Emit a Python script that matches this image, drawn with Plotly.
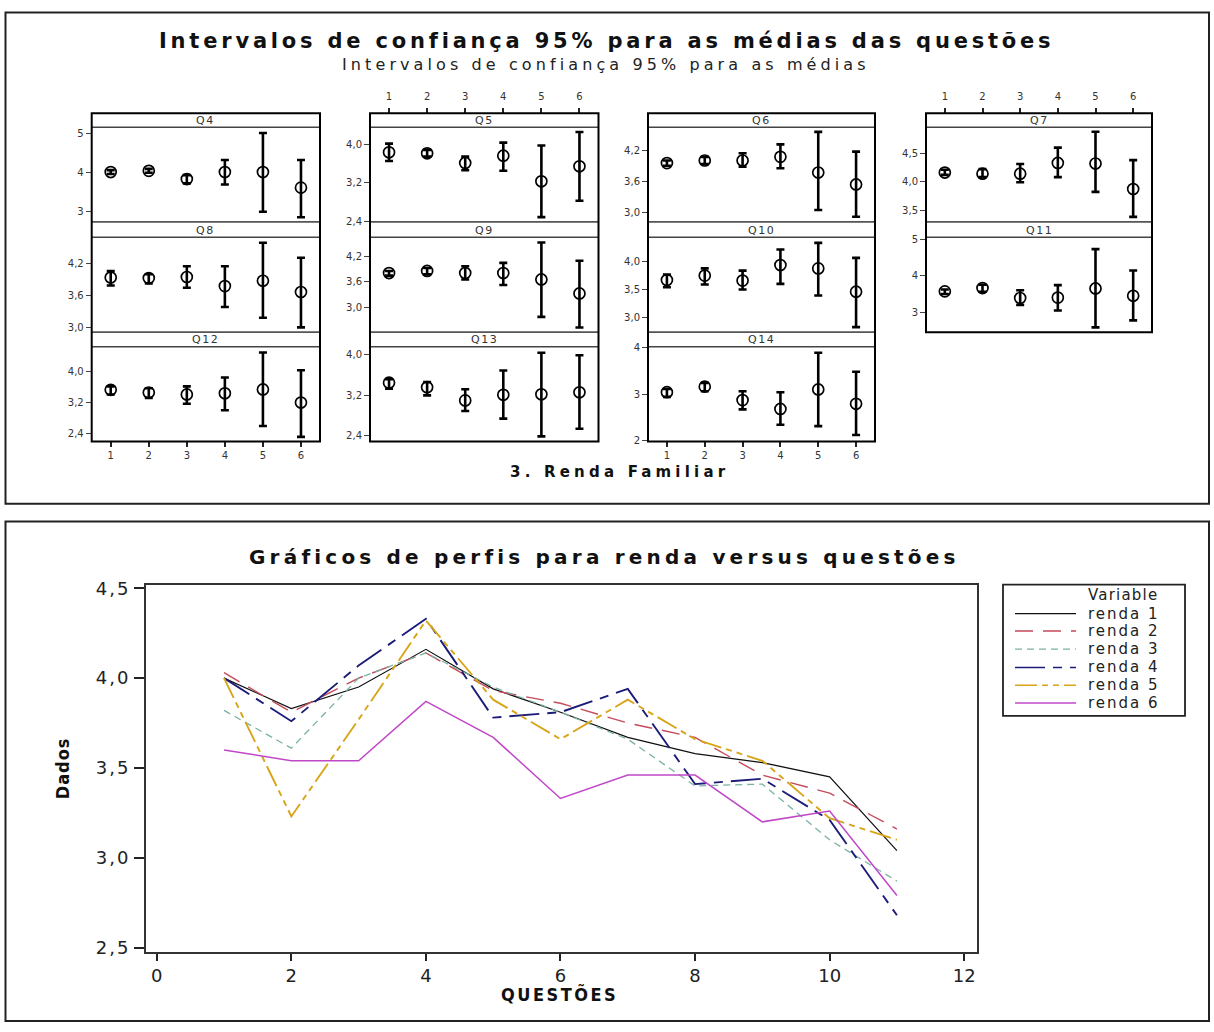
import plotly.graph_objects as go

# ---------------- data ----------------
groups = [1, 2, 3, 4, 5, 6]                      # 3. Renda Familiar
questions = ["Q4", "Q5", "Q6", "Q7", "Q8", "Q9", "Q10", "Q11", "Q12", "Q13", "Q14"]
question_numbers = [1, 2, 3, 4, 5, 6, 7, 8, 9, 10, 11]
renda_names = ["renda 1", "renda 2", "renda 3", "renda 4", "renda 5", "renda 6"]

Q4_mean = [4.00, 4.03, 3.82, 4.00, 4.00, 3.60]
Q4_low = [3.95, 3.98, 3.71, 3.68, 2.98, 2.84]
Q4_high = [4.05, 4.08, 3.92, 4.31, 5.00, 4.31]

Q5_mean = [3.83, 3.81, 3.61, 3.76, 3.23, 3.54]
Q5_low = [3.65, 3.74, 3.46, 3.45, 2.49, 2.83]
Q5_high = [4.01, 3.88, 3.74, 4.03, 3.97, 4.25]

Q6_mean = [3.95, 4.00, 4.00, 4.07, 3.77, 3.54]
Q6_low = [3.90, 3.93, 3.88, 3.85, 3.05, 2.92]
Q6_high = [4.00, 4.07, 4.14, 4.31, 4.55, 4.17]

Q7_mean = [4.16, 4.14, 4.14, 4.33, 4.32, 3.87]
Q7_low = [4.12, 4.08, 3.99, 4.08, 3.82, 3.38]
Q7_high = [4.21, 4.22, 4.31, 4.60, 4.88, 4.38]

Q8_mean = [3.94, 3.93, 3.95, 3.78, 3.88, 3.67]
Q8_low = [3.79, 3.83, 3.75, 3.39, 3.19, 3.01]
Q8_high = [4.06, 4.00, 4.15, 4.15, 4.59, 4.31]

Q9_mean = [3.81, 3.86, 3.81, 3.81, 3.66, 3.33]
Q9_low = [3.75, 3.78, 3.66, 3.53, 2.78, 2.53]
Q9_high = [3.86, 3.93, 3.97, 4.05, 4.53, 4.10]

Q10_mean = [3.67, 3.75, 3.66, 3.94, 3.88, 3.46]
Q10_low = [3.54, 3.59, 3.50, 3.60, 3.39, 2.82]
Q10_high = [3.77, 3.88, 3.84, 4.22, 4.34, 4.07]

Q11_mean = [3.58, 3.67, 3.40, 3.41, 3.66, 3.46]
Q11_low = [3.51, 3.57, 3.21, 3.06, 2.60, 2.79]
Q11_high = [3.63, 3.76, 3.61, 3.75, 4.73, 4.15]

Q12_mean = [3.53, 3.46, 3.41, 3.44, 3.54, 3.20]
Q12_low = [3.41, 3.32, 3.17, 3.00, 2.59, 2.31]
Q12_high = [3.62, 3.57, 3.62, 3.85, 4.50, 4.04]

Q13_mean = [3.45, 3.36, 3.10, 3.21, 3.22, 3.26]
Q13_low = [3.33, 3.20, 2.89, 2.74, 2.39, 2.54]
Q13_high = [3.52, 3.46, 3.32, 3.69, 4.04, 3.99]

Q14_mean = [3.04, 3.16, 2.87, 2.68, 3.10, 2.79]
Q14_low = [2.94, 3.06, 2.67, 2.34, 2.31, 2.12]
Q14_high = [3.11, 3.24, 3.06, 3.04, 3.89, 3.48]

# per-panel y tick values
Q4_ticks = [3, 4, 5]
Q5_ticks = [2.4, 3.2, 4.0]
Q6_ticks = [3.0, 3.6, 4.2]
Q7_ticks = [3.5, 4.0, 4.5]
Q8_ticks = [3.0, 3.6, 4.2]
Q9_ticks = [3.0, 3.6, 4.2]
Q10_ticks = [3.0, 3.5, 4.0]
Q11_ticks = [3, 4, 5]
Q12_ticks = [2.4, 3.2, 4.0]
Q13_ticks = [2.4, 3.2, 4.0]
Q14_ticks = [2, 3, 4]
profile_yticks = [2.5, 3.0, 3.5, 4.0, 4.5]
profile_xticks = [0, 2, 4, 6, 8, 10, 12]

means = [Q4_mean, Q5_mean, Q6_mean, Q7_mean, Q8_mean, Q9_mean, Q10_mean, Q11_mean, Q12_mean, Q13_mean, Q14_mean]
lows = [Q4_low, Q5_low, Q6_low, Q7_low, Q8_low, Q9_low, Q10_low, Q11_low, Q12_low, Q13_low, Q14_low]
highs = [Q4_high, Q5_high, Q6_high, Q7_high, Q8_high, Q9_high, Q10_high, Q11_high, Q12_high, Q13_high, Q14_high]
ticks = [Q4_ticks, Q5_ticks, Q6_ticks, Q7_ticks, Q8_ticks, Q9_ticks, Q10_ticks, Q11_ticks, Q12_ticks, Q13_ticks, Q14_ticks]

# ---------------- layout helpers ----------------
W, H = 1214, 1032
def fx(p):
    return p / W
def fy(p):
    return 1 - p / H
def spaced(text, px):
    return f'<span style="letter-spacing:{px}px">{text}</span>'

FONT = "DejaVu Sans, Verdana, sans-serif"
COND = "DejaVu Sans Condensed, Liberation Sans Narrow, DejaVu Sans, sans-serif"

col_x = [(91.7, 320.0), (370.0, 598.5), (648.0, 875.0), (926.0, 1152.0)]
row_strip = [(107.7, 121.7), (217.7, 233.3), (329.3, 344.0)]
row_plot = [(121.7, 217.7), (233.3, 329.3), (344.0, 440.0)]
y_ranges = [[2.72, 5.15], [2.39, 4.35], [2.82, 4.64], [3.29, 4.96],
            [2.92, 4.69], [2.42, 4.65], [2.73, 4.44], [2.47, 5.05],
            [2.19, 4.65], [2.29, 4.16], [1.98, 4.02]]
y_formats = ["d", ".1f", ".1f", ".1f", ".1f", ".1f", ".1f", "d", ".1f", ".1f", "d"]

fig = go.Figure()
shapes = []
annotations = []
layout = dict(
    width=W, height=H, margin=dict(l=0, r=0, t=0, b=0),
    paper_bgcolor="white", plot_bgcolor="white", showlegend=False,
    separators=",.", font=dict(family=FONT, color="#222"),
)

# outer boxes
shapes.append(dict(type="rect", xref="paper", yref="paper", x0=fx(5.5), x1=fx(1209), y0=fy(5.5), y1=fy(503),
                   line=dict(color="#222", width=2)))
shapes.append(dict(type="rect", xref="paper", yref="paper", x0=fx(5.5), x1=fx(1209), y0=fy(521), y1=fy(1027),
                   line=dict(color="#222", width=2)))

# ---------------- interval panels ----------------
for i, q in enumerate(questions):
    k = i + 1
    r, c = i // 4, i % 4
    xl, xr = col_x[c]
    pt, pb = row_plot[r]
    m = means[i]
    err_up = [h - v for h, v in zip(highs[i], m)]
    err_dn = [v - l for v, l in zip(m, lows[i])]
    fig.add_trace(go.Scatter(
        x=groups, y=m, mode="markers",
        marker=dict(symbol="circle-open", size=11, color="black", line=dict(width=1.7, color="black")),
        error_y=dict(type="data", symmetric=False, array=err_up, arrayminus=err_dn,
                     color="black", thickness=2.6, width=4),
        xaxis=f"x{k}", yaxis=f"y{k}", hoverinfo="skip"))
    xa = dict(domain=[fx(xl), fx(xr)], range=[0.5, 6.5], anchor=f"y{k}", showgrid=False,
              zeroline=False, showline=False, tickvals=groups, fixedrange=True)
    if i in (1, 3):
        xa.update(anchor="free", position=fy(107.7), side="top", ticks="outside", ticklen=5,
                  tickwidth=1.5, tickcolor="#222", showticklabels=True, ticklabelstandoff=4,
                  tickfont=dict(size=10, color="#333"))
    elif i in (8, 10):
        xa.update(side="bottom", ticks="outside", ticklen=5, tickwidth=1.5, tickcolor="#222",
                  showticklabels=True, tickfont=dict(size=10, color="#333"))
    else:
        xa.update(ticks="", showticklabels=False)
    ya = dict(domain=[fy(pb), fy(pt)], range=y_ranges[i], anchor=f"x{k}", showgrid=False,
              zeroline=False, showline=False, tickvals=ticks[i], tickformat=y_formats[i],
              ticks="outside", ticklen=5, tickwidth=1, tickcolor="#444",
              tickfont=dict(size=10, color="#333"), fixedrange=True)
    layout[f"xaxis{k}" if k > 1 else "xaxis"] = xa
    layout[f"yaxis{k}" if k > 1 else "yaxis"] = ya

    st, sb = row_strip[r]
    shapes.append(dict(type="line", xref="paper", yref="paper", x0=fx(xl), x1=fx(xr), y0=fy(sb), y1=fy(sb),
                       line=dict(color="#444", width=1.5)))
    if r > 0:
        shapes.append(dict(type="line", xref="paper", yref="paper", x0=fx(xl), x1=fx(xr), y0=fy(st), y1=fy(st),
                           line=dict(color="#555", width=1.8)))
    annotations.append(dict(xref="paper", yref="paper", x=fx((xl + xr) / 2), y=fy((st + sb) / 2 + 0.5),
                            text=spaced(q, 1.5), showarrow=False, font=dict(size=11, color="#333"),
                            xanchor="center", yanchor="middle"))

# column frames
for c, (xl, xr) in enumerate(col_x):
    bottom = 440.0 if c < 3 else 329.3
    shapes.append(dict(type="rect", xref="paper", yref="paper", x0=fx(xl), x1=fx(xr), y0=fy(bottom), y1=fy(107.7),
                       line=dict(color="black", width=2)))

annotations.append(dict(xref="paper", yref="paper", x=fx(606), y=fy(34),
                        text="<b>" + spaced("Intervalos de confiança 95% para as médias das questões", 3.8) + "</b>",
                        showarrow=False, font=dict(size=21, color="#111", family=FONT),
                        xanchor="center", yanchor="middle"))
annotations.append(dict(xref="paper", yref="paper", x=fx(606), y=fy(58.5),
                        text=spaced("Intervalos de confiança 95% para as médias", 4.1),
                        showarrow=False, font=dict(size=16, color="#222", family=FONT),
                        xanchor="center", yanchor="middle"))
annotations.append(dict(xref="paper", yref="paper", x=fx(619), y=fy(471),
                        text="<b>" + spaced("3. Renda Familiar", 4.2) + "</b>",
                        showarrow=False, font=dict(size=15, color="#111", family=FONT),
                        xanchor="center", yanchor="middle"))

# ---------------- profile chart ----------------
line_colors = ["#111111", "#c44a5c", "#7ab2a2", "#1c1c78", "#d8a418", "#c048c8"]
line_dashes = ["solid", "18px,10px", "7px,5px", "30px,8px,9px,8px", "22px,5px,6px,5px,6px,5px", "solid"]
line_widths = [1.2, 1.4, 1.3, 1.9, 1.9, 1.5]

for r, name in enumerate(renda_names):
    yvals = [means[qi][r] for qi in range(len(questions))]
    fig.add_trace(go.Scatter(
        x=question_numbers, y=yvals, mode="lines", name=name,
        line=dict(color=line_colors[r], dash=line_dashes[r], width=line_widths[r]),
        xaxis="x12", yaxis="y12", hoverinfo="skip"))

profile_ytext = [spaced(f"{v:.1f}".replace(".", ","), 2) for v in profile_yticks]

layout["xaxis12"] = dict(domain=[fx(146), fx(977)], range=[-0.16, 12.19], anchor="y12",
                         tickvals=profile_xticks, tickformat="d", ticks="outside", ticklen=7, tickwidth=1.5,
                         tickcolor="#222", showline=True, mirror=True, linecolor="#333", linewidth=1.8,
                         showgrid=False, zeroline=False, tickfont=dict(size=18, color="#222"), fixedrange=True)
layout["yaxis12"] = dict(domain=[fy(957), fy(585)], range=[2.476, 4.52], anchor="x12",
                         tickvals=profile_yticks, ticktext=profile_ytext, ticks="outside", ticklen=10,
                         tickwidth=1.5, tickcolor="#222", showline=True, mirror=True, linecolor="#333",
                         linewidth=1.8, showgrid=False, zeroline=False,
                         tickfont=dict(size=18, color="#222"), fixedrange=True)

annotations.append(dict(xref="paper", yref="paper", x=fx(604), y=fy(557),
                        text="<b>" + spaced("Gráficos de perfis para renda versus questões", 4.2) + "</b>",
                        showarrow=False, font=dict(size=20, color="#111", family=FONT),
                        xanchor="center", yanchor="middle"))
annotations.append(dict(xref="paper", yref="paper", x=fx(559), y=fy(1000),
                        text="<b>" + spaced("QUESTÕES", 2.5) + "</b>", showarrow=False,
                        font=dict(size=18, color="#111", family=COND),
                        xanchor="center", yanchor="middle"))
annotations.append(dict(xref="paper", yref="paper", x=fx(62), y=fy(771),
                        text="<b>" + spaced("Dados", 1) + "</b>", showarrow=False, textangle=-90,
                        font=dict(size=18, color="#111", family=COND),
                        xanchor="center", yanchor="middle"))

# legend box (drawn)
shapes.append(dict(type="rect", xref="paper", yref="paper", x0=fx(1003), x1=fx(1185), y0=fy(718), y1=fy(585),
                   line=dict(color="#222", width=1.8)))
annotations.append(dict(xref="paper", yref="paper", x=fx(1086), y=fy(596), text=spaced("Variable", 1.2),
                        showarrow=False, font=dict(size=15, color="#222"), xanchor="left", yanchor="middle"))
legend_rows = [614.3, 632.0, 650.3, 668.8, 687.0, 705.0]
for r, name in enumerate(renda_names):
    yy = legend_rows[r]
    shapes.append(dict(type="line", xref="paper", yref="paper", x0=fx(1015), x1=fx(1076), y0=fy(yy), y1=fy(yy),
                       line=dict(color=line_colors[r], dash=line_dashes[r], width=min(line_widths[r], 1.5))))
    annotations.append(dict(xref="paper", yref="paper", x=fx(1086), y=fy(yy), text=spaced(name, 2),
                            showarrow=False, font=dict(size=15, color="#222"), xanchor="left", yanchor="middle"))

layout["shapes"] = shapes
layout["annotations"] = annotations
fig.update_layout(**layout)
fig.write_html("out.html")
